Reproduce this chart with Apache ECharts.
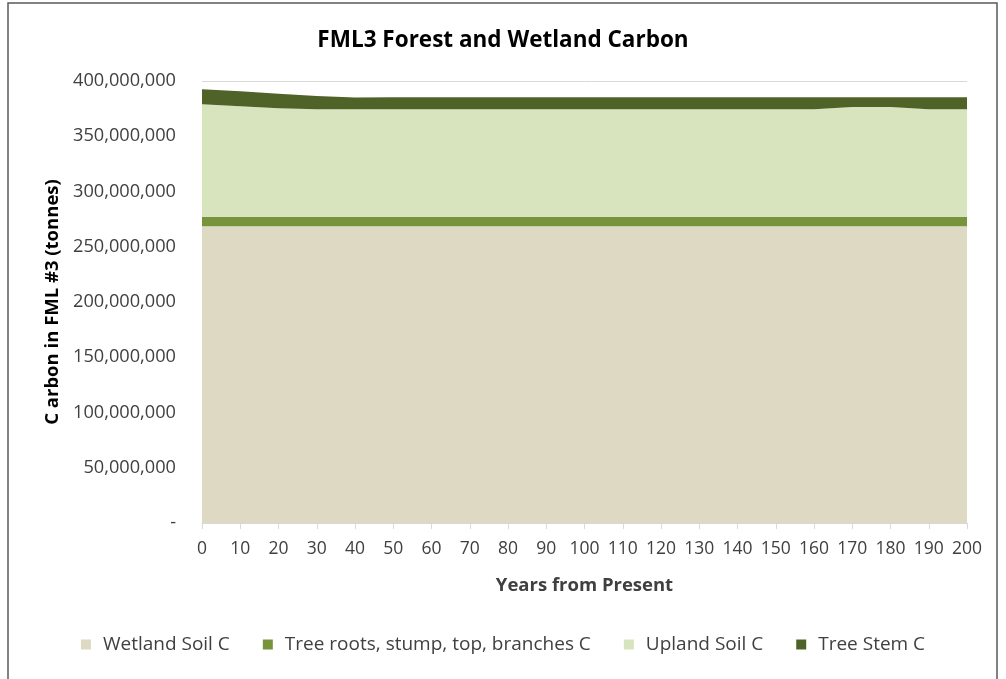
<!DOCTYPE html>
<html>
<head>
<meta charset="utf-8">
<script src="https://cdn.jsdelivr.net/npm/echarts@6/dist/echarts.min.js"></script>
<style>
html,body{margin:0;padding:0;background:#fff;}
#chart{width:1006px;height:679px;}
</style>
</head>
<body>
<div id="chart"></div>
<script>
const years = [0,10,20,30,40,50,60,70,80,90,100,110,120,130,140,150,160,170,180,190,200];
const wetlandSoil = [268.5e6,268.5e6,268.5e6,268.5e6,268.5e6,268.5e6,268.5e6,268.5e6,268.5e6,268.5e6,268.5e6,268.5e6,268.5e6,268.5e6,268.5e6,268.5e6,268.5e6,268.5e6,268.5e6,268.5e6,268.5e6];
const treeRoots = [8.7e6,8.7e6,8.7e6,8.7e6,8.7e6,8.7e6,8.7e6,8.7e6,8.7e6,8.7e6,8.7e6,8.7e6,8.7e6,8.7e6,8.7e6,8.7e6,8.7e6,8.7e6,8.7e6,8.7e6,8.7e6];
const uplandSoil = [101.7e6,99.9e6,98.1e6,97.2e6,97.2e6,97.2e6,97.2e6,97.2e6,97.2e6,97.2e6,97.2e6,97.2e6,97.2e6,97.2e6,97.2e6,97.2e6,97.2e6,99.3e6,99.3e6,97.2e6,97.2e6];
const treeStem = [13.6e6,13.7e6,13.1e6,12.0e6,10.7e6,10.8e6,10.8e6,10.8e6,10.8e6,10.8e6,10.8e6,10.8e6,10.8e6,10.8e6,10.8e6,10.8e6,10.8e6,8.7e6,8.7e6,10.8e6,10.8e6];
const seriesNames = ['Wetland Soil C','Tree roots, stump, top, branches C','Upland Soil C','Tree Stem C'];
const seriesColors = ['#ddd9c3','#77933c','#d7e4bd','#4f6228'];
const seriesData = [wetlandSoil, treeRoots, uplandSoil, treeStem];

const FONT = '"Open Sans", "Noto Sans", sans-serif';
const chart = echarts.init(document.getElementById('chart'), null, {renderer:'canvas'});
function fmt(v){
  if (v === 0) return '-';
  return v.toString().replace(/\B(?=(\d{3})+(?!\d))/g, ',');
}
chart.setOption({
  animation: false,
  backgroundColor: '#fff',
  color: seriesColors,
  title: {
    text: 'FML3 Forest and Wetland Carbon',
    left: 'center',
    top: 24,
    textStyle: {fontFamily: FONT, fontWeight: 'bold', fontSize: 22.5, color: '#000'}
  },
  graphic: [{
    type: 'rect',
    shape: {x: 8, y: 3, width: 989, height: 690},
    style: {fill: 'none', stroke: '#595959', lineWidth: 1.5},
    silent: true
  }],
  legend: {
    bottom: 20,
    left: 'center',
    itemWidth: 10,
    itemHeight: 10,
    itemGap: 33,
    icon: 'rect',
    textStyle: {fontFamily: FONT, fontSize: 19, color: '#404040', padding: [0, 0, 0, 7]},
    data: seriesNames
  },
  grid: {left: 202, right: 39, top: 81, bottom: 156},
  xAxis: {
    type: 'category',
    data: years,
    boundaryGap: false,
    name: 'Years from Present',
    nameLocation: 'middle',
    nameGap: 53,
    nameTextStyle: {fontFamily: FONT, fontWeight: 'bold', fontSize: 18.5, color: '#404040'},
    axisLine: {lineStyle: {color: '#d9d9d9', width: 1}},
    axisTick: {show: true, length: 6, lineStyle: {color: '#d9d9d9'}},
    axisLabel: {fontFamily: FONT, fontSize: 17.5, color: '#404040', margin: 17, interval: 0},
    splitLine: {show: false}
  },
  yAxis: {
    type: 'value',
    min: 0,
    max: 400000000,
    interval: 50000000,
    name: 'C arbon in FML #3 (tonnes)',
    nameLocation: 'middle',
    nameGap: 140,
    nameRotate: 90,
    nameTextStyle: {fontFamily: FONT, fontWeight: 'bold', fontSize: 18.5, color: '#000'},
    axisLine: {show: false},
    axisTick: {show: false},
    axisLabel: {fontFamily: FONT, fontSize: 18.2, color: '#404040', margin: 26, formatter: fmt},
    splitLine: {lineStyle: {color: '#d9d9d9', width: 1}}
  },
  series: seriesNames.map((n, i) => ({
    name: n,
    type: 'line',
    stack: 'total',
    data: seriesData[i],
    symbol: 'none',
    lineStyle: {width: 0},
    areaStyle: {color: seriesColors[i], opacity: 1},
    itemStyle: {color: seriesColors[i]}
  }))
});
</script>
</body>
</html>
